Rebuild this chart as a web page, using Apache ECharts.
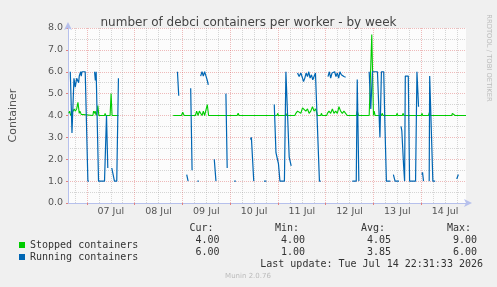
<!DOCTYPE html>
<html>
<head>
<meta charset="utf-8">
<title>number of debci containers per worker - by week</title>
<script src="https://cdn.jsdelivr.net/npm/echarts@6/dist/echarts.min.js"></script>
<style>
  html, body { margin: 0; padding: 0; background: #f0f0f0; }
  #chart { width: 497px; height: 287px; }
</style>
</head>
<body>
<div id="chart"></div>
<script>
// x = hours since 07 Jul 00:00, null = no data (gap)
const stopped = [
  [-9.15, 4.1], [-8.65, 4.2], [-8.15, 4.0], [-7.5, 4.1], [-7, 4.2], [-6.35, 4.3], [-5.85, 4.2],
  [-5.15, 4.3], [-4.85, 4.25], [-4.5, 4.6], [-3.85, 4.1], [-3.5, 4.2], [-2.85, 4.05], [-2.5, 4.0],
  [3, 4.0], [3.35, 4.2], [3.85, 4.1], [4.15, 4.2], [4.65, 4.0], [5.15, 4.2], [5.5, 4.45], [6, 4.0],
  [8.85, 4.0], [9.15, 4.1], [9.5, 4.0], [11.65, 4.0], [12.15, 5.0], [12.65, 4.0], [15.85, 4.0],
  [16.5, null],
  [43.35, 4.0], [47.5, 4.0], [48.15, 4.15], [48.85, 4.0], [54.5, 4.0], [55.15, 4.2], [55.85, 4.0],
  [56.5, 4.2], [57.15, 4.15], [57.85, 4.0], [58.5, 4.2], [59.15, 4.0], [60, 4.0], [60.5, 4.5],
  [61.15, 4.0], [75.5, 4.0], [76, 4.1], [76.5, 4.0], [95.5, 4.0], [95.85, 4.1], [96.25, 4.0],
  [99.65, 4.0], [100, 4.1], [100.35, 4.0], [104.5, 4.0], [105, 4.1], [105.85, 4.2], [106.65, 4.2],
  [107.5, 4.1], [108.35, 4.35], [109.15, 4.4], [110, 4.2], [110.85, 4.3], [111.65, 4.1], [112.5, 4.2],
  [113.35, 4.4], [114.15, 4.2], [115, 4.3], [115.85, 4.0], [117.5, 4.0], [117.85, 4.1], [118.25, 4.0],
  [120.5, 4.0], [120.85, 4.1], [121.65, 4.2], [122.5, 4.1], [123.35, 4.3], [124.15, 4.1], [125, 4.2],
  [125.85, 4.1], [126.65, 4.4], [127.5, 4.2], [128.35, 4.1], [129.15, 4.2], [130, 4.1], [130.85, 4.0],
  [135.35, 4.0], [135.85, 4.2], [136.5, 4.0], [141.85, 4.0], [143.15, 7.7], [144, 4.0], [144.35, 4.2],
  [144.85, 4.0], [148, 4.0], [148.35, 4.1], [148.85, 4.0], [155.5, 4.0], [155.85, 4.1], [156.25, 4.0],
  [158.5, 4.0], [158.85, 4.1], [159.25, 4.0], [168, 4.0], [168.35, 4.1], [168.75, 4.0], [171.65, 4.0],
  [172.15, 4.15], [172.65, 4.0], [183.35, 4.0], [183.65, 4.1], [184.15, 4.05], [184.65, 4.1],
  [185, 4.0], [190.5, 4.0]
];

const running = [
  [-8.35, 6.0], [-7.5, 3.2], [-6.5, 5.7], [-5.85, 5.3], [-5.15, 5.7], [-4.15, 5.5], [-3.85, 5.8],
  [-3.15, 6.0], [-2.85, 5.8], [-2.5, 6.0], [-0.85, 6.0], [0.5, 1.0], [1, 1.0], [1.5, null],
  [3.85, 6.0], [4.25, 5.6], [4.65, 6.0], [5, 6.0], [5.85, 1.0], [8.85, 1.0], [9.85, 4.0], [10.5, 1.6],
  [11, null],
  [12.5, 1.6], [13.85, 1.0], [15, 1.0], [15.85, 5.7], [16.5, null],
  [45.5, 6.0], [46.15, 4.9], [46.5, null],
  [50.15, 1.3], [50.85, 1.0], [51.5, null],
  [52.15, 5.25], [52.85, 1.5], [53.5, null],
  [55.5, 1.0], [56.25, 1.0], [56.75, null],
  [57.15, 5.8], [57.85, 6.0], [58.5, 5.8], [59.15, 6.0], [59.85, 5.8], [60.5, 5.6], [61, 5.4], [61.5, null],
  [64, 2.0], [64.85, 1.0], [65.5, null],
  [69.85, 5.0], [70.5, 1.6], [71, null],
  [74, 1.0], [74.85, 1.0], [75.5, null],
  [82.15, 2.9], [82.65, 3.0], [83.85, 1.0], [84.5, null],
  [89, 1.0], [90.15, 1.0], [90.5, null],
  [94.15, 4.5], [95, 2.3], [95.75, 2.0], [96.25, 1.8], [97, 1.0], [99.25, 1.0], [100, 6.0], [101, 6.0],
  [101.65, 2.1], [102.65, 1.7], [103, null],
  [105.85, 5.94], [106.65, 5.78], [107.5, 5.94], [108.35, 5.71], [108.85, 5.55], [109.5, 5.71],
  [110.15, 5.94], [110.85, 5.78], [111.5, 6.0], [112.15, 5.71], [112.85, 5.86], [113.5, 5.63],
  [114.15, 5.78], [114.85, 5.94], [115.5, 5.86], [115.85, 5.86], [116.85, 1.0], [117.5, 1.0], [118, null],
  [121.15, 5.78], [121.85, 6.0], [122.5, 5.71], [123.15, 5.94], [123.85, 5.86], [124.5, 6.0],
  [125.15, 5.78], [125.85, 5.94], [126.5, 5.71], [127.15, 6.0], [127.85, 5.86], [128.5, 5.94],
  [129.15, 5.78], [130, 5.75], [130.5, null],
  [133.35, 1.0], [135.35, 1.0], [135.85, 5.65], [136.65, 1.0], [137, null],
  [141.85, 6.0], [142.65, 4.3], [143.5, 6.0], [146, 6.0], [147.25, 3.0], [148, 6.0], [149.15, 6.0],
  [149.75, 3.6], [150.5, 1.0], [152.5, 1.0], [153, null],
  [154, 1.3], [154.85, 1.0], [156.85, 1.0], [157.3, null],
  [157.85, 3.5], [158.25, 3.3], [159.15, 1.7], [159.65, 1.0], [160, 5.8], [161.5, 5.8], [162.15, 1.0],
  [165.15, 1.0], [165.85, 6.0], [166.65, 4.4], [167, null],
  [168.35, 1.3], [168.65, 1.4], [169.15, 1.0], [169.5, null],
  [172, 1.0], [172.25, 5.8], [173.85, 1.0], [175, 1.0], [175.5, null],
  [185.85, 1.1], [186.65, 1.3]
];

// axis ticks (hours since 07 Jul 00:00)
const midnights = [0, 24, 48, 72, 96, 120, 144, 168];
const sixHours = [-6, 6, 12, 18, 30, 36, 42, 54, 60, 66, 78, 84, 90, 102, 108, 114,
  126, 132, 138, 150, 156, 162, 174, 180, 186];
const noons = [12, 36, 60, 84, 108, 132, 156, 180];
const dayLabels = ['07 Jul', '08 Jul', '09 Jul', '10 Jul', '11 Jul', '12 Jul', '13 Jul', '14 Jul'];

// legend table
const statHeads = ['Cur:', 'Min:', 'Avg:', 'Max:'];
const stoppedStats = ['4.00', '4.00', '4.05', '9.00'];
const runningStats = ['6.00', '1.00', '3.85', '6.00'];
const lastUpdate = 'Last update: Tue Jul 14 22:31:33 2026';

const mono = '"DejaVu Sans Mono", monospace';
const sans = '"DejaVu Sans", sans-serif';
const redGrid = 'rgba(215, 80, 80, 0.38)';
const grayGrid = 'rgba(150, 150, 150, 0.38)';
const axisColor = '#b6c0ec';

const chart = echarts.init(document.getElementById('chart'));

// stats columns, right edges
const colRight = [219.5, 305, 391, 477];
const statText = [];
statHeads.forEach((h, i) => {
  statText.push({ type: 'text', x: colRight[i] - 6, y: 228,
    style: { text: h, font: '10px ' + mono, fill: '#333', align: 'right', verticalAlign: 'middle' } });
  statText.push({ type: 'text', x: colRight[i], y: 240,
    style: { text: stoppedStats[i], font: '10px ' + mono, fill: '#333', align: 'right', verticalAlign: 'middle' } });
  statText.push({ type: 'text', x: colRight[i], y: 252,
    style: { text: runningStats[i], font: '10px ' + mono, fill: '#333', align: 'right', verticalAlign: 'middle' } });
});

const option = {
  backgroundColor: '#f0f0f0',
  animation: false,
  title: {
    text: 'number of debci containers per worker - by week',
    left: 'center',
    top: 12,
    textStyle: { fontFamily: sans, fontSize: 12, fontWeight: 'normal', color: '#444' }
  },
  legend: {
    orient: 'vertical',
    left: 14,
    top: 234,
    itemWidth: 6,
    itemHeight: 6,
    itemGap: 0,
    icon: 'rect',
    selectedMode: false,
    data: ['Stopped containers', 'Running containers'],
    textStyle: { fontFamily: mono, fontSize: 10, color: '#333', lineHeight: 12 }
  },
  grid: { left: 66, top: 28, width: 400, height: 175, backgroundColor: '#fcfcfc', show: true, borderWidth: 0 },
  xAxis: [
    {
      type: 'value',
      min: -9.5,
      max: 190.5,
      axisLine: { show: true, onZero: false, symbol: ['none', 'arrow'], symbolSize: [6, 8], symbolOffset: [0, 6],
        lineStyle: { color: axisColor } },
      axisTick: { show: true, customValues: midnights, length: 2, lineStyle: { color: '#e08080' } },
      axisLabel: {
        customValues: noons,
        margin: 4,
        fontFamily: sans,
        fontSize: 9.5,
        color: '#555',
        formatter: v => dayLabels[noons.indexOf(v)]
      },
      splitLine: { show: true, lineStyle: { color: redGrid, type: 'dotted' } }
    },
    {
      type: 'value',
      min: -9.5,
      max: 190.5,
      axisLine: { show: false },
      axisTick: { show: false, customValues: sixHours },
      axisLabel: { show: false, customValues: sixHours },
      splitLine: { show: true, lineStyle: { color: grayGrid, type: 'dotted' } }
    }
  ],
  yAxis: {
    type: 'value',
    min: 0,
    max: 8,
    interval: 1,
    name: 'Container',
    nameLocation: 'middle',
    nameGap: 49,
    nameTextStyle: { fontFamily: sans, fontSize: 11, color: '#555' },
    axisLine: { show: true, onZero: false, symbol: ['none', 'arrow'], symbolSize: [6, 8], symbolOffset: [0, 6],
      lineStyle: { color: axisColor } },
    axisTick: { show: true, length: 2, lineStyle: { color: '#e08080' } },
    axisLabel: { margin: 5, fontFamily: sans, fontSize: 9.5, color: '#555', formatter: v => v.toFixed(1) },
    splitLine: { show: true, lineStyle: { color: redGrid, type: 'dotted' } },
    minorTick: { show: false, splitNumber: 2 },
    minorSplitLine: { show: true, lineStyle: { color: grayGrid, type: 'dotted' } }
  },
  series: [
    {
      name: 'Stopped containers',
      type: 'line',
      data: stopped,
      showSymbol: false,
      connectNulls: false,
      color: '#00cc00',
      lineStyle: { width: 1.1, color: '#00cc00' }
    },
    {
      name: 'Running containers',
      type: 'line',
      data: running,
      showSymbol: false,
      connectNulls: false,
      color: '#0066b3',
      lineStyle: { width: 1.2, color: '#0066b3' }
    }
  ],
  graphic: [
    { type: 'text', x: 489, y: 58, rotation: -Math.PI / 2,
      style: { text: 'RRDTOOL / TOBI OETIKER', font: '6.8px ' + sans, fill: '#bbb', align: 'center', verticalAlign: 'middle' } },
    ...statText,
    { type: 'text', x: 483, y: 264,
      style: { text: lastUpdate, font: '10px ' + mono, fill: '#333', align: 'right', verticalAlign: 'middle' } },
    { type: 'text', x: 248, y: 276,
      style: { text: 'Munin 2.0.76', font: '7px ' + sans, fill: '#bbb', align: 'center', verticalAlign: 'middle' } }
  ]
};

chart.setOption(option);
</script>
</body>
</html>
